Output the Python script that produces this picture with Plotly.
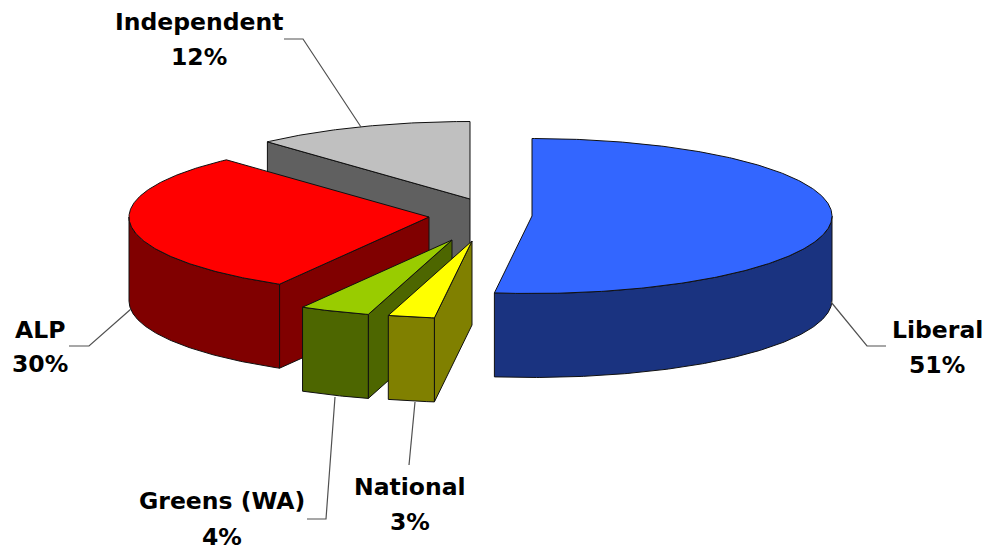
import numpy as np
import plotly.graph_objects as go

# Data: clockwise from 12 o'clock
parties = ["Liberal", "National", "Greens (WA)", "ALP", "Independent"]
percent_labels = ["51%", "3%", "4%", "30%", "12%"]
# share of the ellipse each wedge sweeps, as measured on the picture
sweep_shares = [52.0, 2.5, 3.8, 29.9, 11.8]

# Style / layout
top_colors = ["#3366FF", "#FFFF00", "#99CC00", "#FF0000", "#C0C0C0"]
side_colors = ["#1A3380", "#808000", "#4D6600", "#800000", "#606060"]
centers = [(532, 216), (472, 241), (452, 240), (429, 217), (470, 199)]
RX, RY, DEPTH = 300, 77.5, 84
draw_order = [4, 3, 2, 1, 0]
label_pos = [(937, 330, 365), (410, 487, 522), (222, 501, 537), (40, 330, 364), (199, 22, 57)]
leaders = [
    ([831, 867, 886], [302, 346, 346]),
    ([415, 409], [402, 465]),
    ([335, 326, 307], [397, 519, 519]),
    ([131, 89, 69], [309, 346, 346]),
    ([284, 303, 361], [39, 39, 127]),
]

edges = np.cumsum([0] + sweep_shares) * 3.6


def arc(c, a0, a1, drop=0.0):
    t = np.radians(np.linspace(a0, a1, max(2, int(abs(a1 - a0) * 2))))
    return c[0] + RX * np.sin(t), c[1] - RY * np.cos(t) + drop


fig = go.Figure()


def poly(x, y, color):
    fig.add_trace(go.Scatter(
        x=list(x) + [x[0]], y=list(y) + [y[0]], mode="lines", fill="toself",
        fillcolor=color, line=dict(color="#101010", width=1),
        hoverinfo="skip", showlegend=False,
    ))


for i in draw_order:
    a0, a1 = edges[i], edges[i + 1]
    c = centers[i]
    # cut face on the wedge's starting edge
    if 0 < a0 < 360:
        sx, sy = arc(c, a0, a0)
        sx, sy = sx[0], sy[0]
        poly([sx, c[0], c[0], sx], [sy, c[1], c[1] + DEPTH, sy + DEPTH], side_colors[i])
    # outer wall: the front half of the ellipse only
    w0, w1 = max(a0, 90), min(a1, 270)
    if w1 > w0:
        ux, uy = arc(c, w0, w1)
        lx, ly = arc(c, w1, w0, DEPTH)
        poly(np.r_[ux, lx], np.r_[uy, ly], side_colors[i])
    # top face
    ax, ay = arc(c, a0, a1)
    poly(np.r_[c[0], ax], np.r_[c[1], ay], top_colors[i])

for lx, ly in leaders:
    fig.add_trace(go.Scatter(x=lx, y=ly, mode="lines", line=dict(color="#505050", width=1.2),
                             hoverinfo="skip", showlegend=False))

for name, pct, (x, y1, y2) in zip(parties, percent_labels, label_pos):
    for txt, y in ((name, y1), (pct, y2)):
        fig.add_annotation(x=x, y=y, text=txt, showarrow=False, xanchor="center", yanchor="middle",
                           font=dict(family="DejaVu Sans", size=23.5, color="#000000", weight="bold"))

fig.update_xaxes(range=[0, 987], visible=False, fixedrange=True)
fig.update_yaxes(range=[550, 0], visible=False, fixedrange=True)
fig.update_layout(width=987, height=550, margin=dict(l=0, r=0, t=0, b=0),
                  paper_bgcolor="white", plot_bgcolor="white", showlegend=False)
fig.write_html("out.html", config={"displayModeBar": False},
               post_script="document.body.style.margin='0';")
